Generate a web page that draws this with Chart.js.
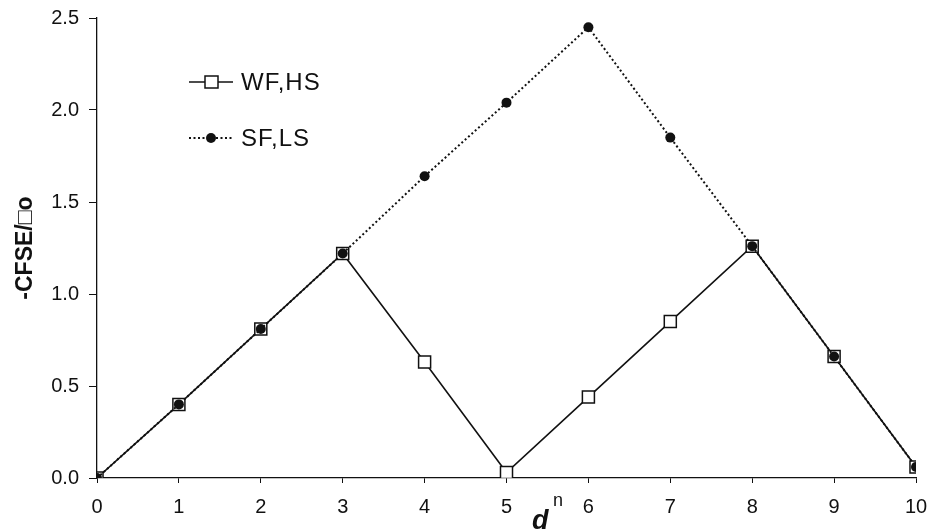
<!DOCTYPE html>
<html>
<head>
<meta charset="utf-8">
<script src="https://cdn.jsdelivr.net/npm/chart.js@4.4.1/dist/chart.umd.min.js"></script>
<style>
  body { margin: 0; background: #fff; }
  #wrap { width: 928px; height: 531px; position: relative; }
</style>
</head>
<body>
<div id="wrap"><canvas id="cfseChart"></canvas></div>
<script>
// d electron count on the x axis
const dCounts = [0, 1, 2, 3, 4, 5, 6, 7, 8, 9, 10];
// weak field, high spin
const wfHs = [0, 0.40, 0.81, 1.22, 0.63, 0.03, 0.44, 0.85, 1.26, 0.66, 0.06];
// strong field, low spin
const sfLs = [0, 0.40, 0.81, 1.22, 1.64, 2.04, 2.45, 1.85, 1.26, 0.66, 0.06];
const yTicks = [0, 0.5, 1.0, 1.5, 2.0, 2.5];

Chart.defaults.font.family = "'Liberation Sans', Arial, sans-serif";
Chart.defaults.color = '#111';

function toPoints(vals) {
  return dCounts.map((d, i) => ({ x: d, y: vals[i] }));
}

// Legend sits inside the plot, so draw it by hand.
// The x title needs a superscript, also drawn here.
const extras = {
  id: 'extras',
  afterDraw(chart) {
    const ctx = chart.ctx;
    ctx.save();
    ctx.strokeStyle = '#111';
    ctx.fillStyle = '#111';

    // WF,HS entry
    ctx.lineWidth = 1.5;
    ctx.setLineDash([]);
    ctx.beginPath();
    ctx.moveTo(189, 82);
    ctx.lineTo(233, 82);
    ctx.stroke();
    ctx.fillStyle = '#fff';
    ctx.fillRect(205, 76, 13, 12);
    ctx.strokeRect(205, 76, 13, 12);
    ctx.fillStyle = '#111';
    ctx.font = "24px 'Liberation Sans', Arial, sans-serif";
    ctx.letterSpacing = '1px';
    ctx.textBaseline = 'middle';
    ctx.textAlign = 'left';
    ctx.fillText('WF,HS', 241, 83);

    // SF,LS entry
    ctx.lineWidth = 2;
    ctx.setLineDash([2, 2.5]);
    ctx.beginPath();
    ctx.moveTo(189, 138);
    ctx.lineTo(233, 138);
    ctx.stroke();
    ctx.setLineDash([]);
    ctx.beginPath();
    ctx.arc(211, 138, 5, 0, Math.PI * 2);
    ctx.fill();
    ctx.fillText('SF,LS', 241, 139);

    // x axis title: d^n
    ctx.letterSpacing = '0px';
    ctx.textBaseline = 'alphabetic';
    ctx.font = "italic bold 27px 'Liberation Sans', Arial, sans-serif";
    ctx.fillText('d', 532, 529);
    ctx.font = "18px 'Liberation Sans', Arial, sans-serif";
    ctx.fillText('n', 553, 506);
    ctx.restore();
  }
};

new Chart(document.getElementById('cfseChart'), {
  type: 'line',
  data: {
    datasets: [
      {
        label: 'WF,HS',
        data: toPoints(wfHs),
        borderColor: '#111',
        borderWidth: 1.6,
        pointStyle: 'rect',
        pointRadius: 8.5,
        pointBorderWidth: 1.5,
        pointBorderColor: '#111',
        pointBackgroundColor: '#fff',
        order: 2
      },
      {
        label: 'SF,LS',
        data: toPoints(sfLs),
        borderColor: '#111',
        borderWidth: 2,
        borderDash: [2, 2.5],
        pointStyle: 'circle',
        pointRadius: 5,
        pointBorderWidth: 0,
        pointBackgroundColor: '#111',
        order: 1
      }
    ]
  },
  options: {
    responsive: true,
    maintainAspectRatio: false,
    animation: false,
    layout: { padding: { top: 18, right: 0, left: 0, bottom: 0 } },
    plugins: {
      legend: { display: false },
      tooltip: { enabled: false }
    },
    scales: {
      x: {
        type: 'linear',
        min: 0,
        max: 10,
        afterFit(scale) {
          scale.height = 53;
          scale.paddingLeft = 0;
          scale.paddingRight = 12;
        },
        afterBuildTicks(scale) { scale.ticks = dCounts.map(v => ({ value: v })); },
        grid: { drawOnChartArea: false, drawTicks: true, tickLength: 5, color: '#111' },
        border: { display: true, color: '#111', width: 1.3 },
        ticks: { font: { size: 20 }, padding: 12, color: '#111' }
      },
      y: {
        min: 0,
        max: 2.5,
        afterFit(scale) {
          scale.width = 97;
          scale.paddingTop = 0;
          scale.paddingBottom = 0;
        },
        afterBuildTicks(scale) { scale.ticks = yTicks.map(v => ({ value: v })); },
        grid: { drawOnChartArea: false, drawTicks: true, tickLength: 8, color: '#111' },
        border: { display: true, color: '#111', width: 1.3 },
        ticks: {
          font: { size: 20 },
          padding: 10,
          color: '#111',
          callback: v => v.toFixed(1)
        },
        title: {
          display: true,
          text: '-CFSE/\u25A1o',
          font: { size: 23, weight: 'bold' },
          color: '#111',
          padding: { top: 12, bottom: 4 }
        }
      }
    }
  },
  plugins: [extras]
});
</script>
</body>
</html>
